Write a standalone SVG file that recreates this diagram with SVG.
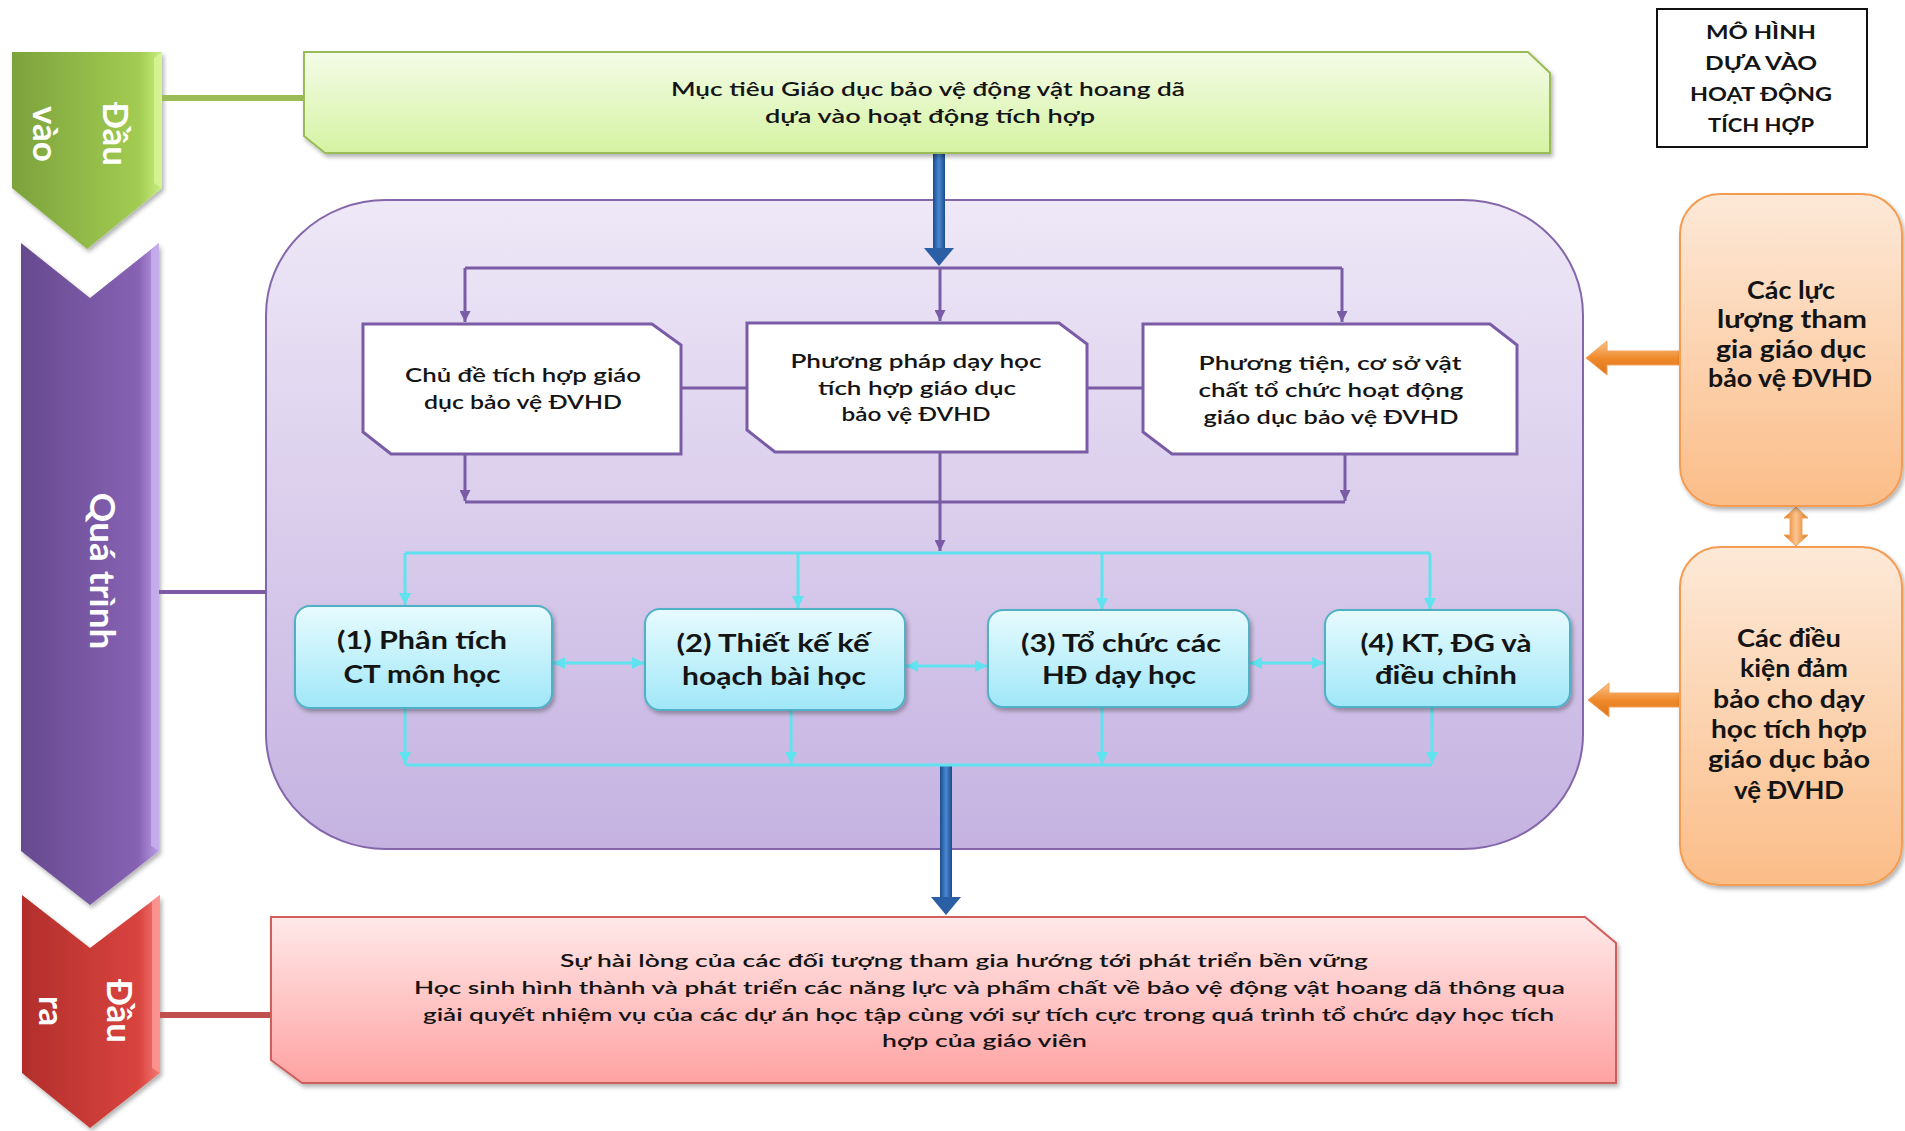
<svg xmlns="http://www.w3.org/2000/svg" width="1905" height="1131" viewBox="0 0 1905 1131">
<defs>
<style>
text{font-family:"Lato","Open Sans","DejaVu Sans",sans-serif;fill:#141414;}
.t20{font-size:20px;font-weight:600;}
.t24{font-size:24px;font-weight:700;}
.tor{font-size:24px;font-weight:700;}
.tred{font-size:18px;font-weight:600;}
.tlab{font-size:18px;font-weight:700;}
.chev{font-size:35px;font-weight:700;fill:#ffffff;}
.pl{fill:none;stroke:#7a5ca6;stroke-width:3;}
.cy{fill:none;stroke:#5fe3ee;stroke-width:3;}
</style>
<linearGradient id="gGreenChev" x1="0" y1="0" x2="1" y2="0"><stop offset="0" stop-color="#7ca23c"/><stop offset="0.85" stop-color="#a2cc52"/><stop offset="1" stop-color="#c8ef80"/></linearGradient>
<linearGradient id="gPurpleChev" x1="0" y1="0" x2="1" y2="0"><stop offset="0" stop-color="#654a8e"/><stop offset="0.85" stop-color="#8762b4"/><stop offset="1" stop-color="#b99de4"/></linearGradient>
<linearGradient id="gRedChev" x1="0" y1="0" x2="1" y2="0"><stop offset="0" stop-color="#b22e2b"/><stop offset="0.85" stop-color="#d9443f"/><stop offset="1" stop-color="#f67b76"/></linearGradient>
<linearGradient id="gGreenBox" x1="0" y1="0" x2="0" y2="1"><stop offset="0" stop-color="#f4fce8"/><stop offset="1" stop-color="#d5f3a2"/></linearGradient>
<linearGradient id="gPurpleBox" x1="0" y1="0" x2="0" y2="1"><stop offset="0" stop-color="#eee8f7"/><stop offset="1" stop-color="#c5b2e1"/></linearGradient>
<linearGradient id="gCyan" x1="0" y1="0" x2="0" y2="1"><stop offset="0" stop-color="#e7fbfe"/><stop offset="1" stop-color="#a0e7f8"/></linearGradient>
<linearGradient id="gOrange" x1="0" y1="0" x2="0" y2="1"><stop offset="0" stop-color="#fde9d8"/><stop offset="1" stop-color="#fbbd88"/></linearGradient>
<linearGradient id="gRed" x1="0" y1="0" x2="0" y2="1"><stop offset="0" stop-color="#ffe9e9"/><stop offset="1" stop-color="#ffa2a2"/></linearGradient>
<linearGradient id="gBlue" x1="0" y1="0" x2="1" y2="0"><stop offset="0" stop-color="#1b4c8c"/><stop offset="0.5" stop-color="#4b88d2"/><stop offset="1" stop-color="#1b4c8c"/></linearGradient>
<linearGradient id="gOrArrow" x1="0" y1="0" x2="0" y2="1"><stop offset="0" stop-color="#fbc58f"/><stop offset="0.5" stop-color="#ef8a2c"/><stop offset="1" stop-color="#dd7419"/></linearGradient>
<linearGradient id="gOrArrowV" x1="0" y1="0" x2="1" y2="0"><stop offset="0" stop-color="#dd7419"/><stop offset="0.5" stop-color="#fbc58f"/><stop offset="1" stop-color="#dd7419"/></linearGradient>
<filter id="sh" x="-5%" y="-5%" width="110%" height="115%"><feDropShadow dx="2" dy="3" stdDeviation="2" flood-color="#000" flood-opacity="0.3"/></filter>
<marker id="mP" viewBox="0 0 10 10" refX="10" refY="5" markerWidth="11" markerHeight="11" markerUnits="userSpaceOnUse" orient="auto-start-reverse"><path d="M0,0 L10,5 L0,10 Z" fill="#7a5ca6"/></marker>
<marker id="mC" viewBox="0 0 10 10" refX="10" refY="5" markerWidth="12" markerHeight="12" markerUnits="userSpaceOnUse" orient="auto-start-reverse"><path d="M0,0 L10,5 L0,10 Z" fill="#5fe3ee"/></marker>
</defs>

<rect width="1905" height="1131" fill="#ffffff"/>

<!-- side chevrons -->
<g id="chev-input">
<path d="M12,52 H162 V188 L87,249 L12,188 Z" fill="url(#gGreenChev)" filter="url(#sh)"/>
<path d="M154,58 L162,52 V188 L154,183 Z" fill="#d8f59a" opacity="0.8"/>
<text class="chev" transform="translate(103,134) rotate(90)" text-anchor="middle"><tspan x="0" y="0">Đầu</tspan><tspan x="0" y="70">vào</tspan></text>
</g>
<g id="chev-process">
<path d="M21,243 L90,298 L159,243 V851 L90,905 L21,851 Z" fill="url(#gPurpleChev)" filter="url(#sh)"/>
<path d="M151,250 L159,243 V851 L151,846 Z" fill="#c9b2ee" opacity="0.8"/>
<text class="chev" font-size="38" transform="translate(90,571) rotate(90)" text-anchor="middle" textLength="157" lengthAdjust="spacingAndGlyphs">Quá trình</text>
</g>
<g id="chev-output">
<path d="M22,895 L90,948 L160,895 V1073 L90,1128 L22,1073 Z" fill="url(#gRedChev)" filter="url(#sh)"/>
<path d="M152,901 L160,895 V1073 L152,1068 Z" fill="#ff9a95" opacity="0.8"/>
<text class="chev" transform="translate(107,1011) rotate(90)" text-anchor="middle"><tspan x="0" y="0">Đầu</tspan><tspan x="0" y="68">ra</tspan></text>
</g>

<!-- title label -->
<g id="title">
<rect x="1657" y="9" width="210" height="138" fill="#ffffff" stroke="#111" stroke-width="2"/>
<text class="tlab" text-anchor="middle"><tspan x="1761" y="39" textLength="110" lengthAdjust="spacingAndGlyphs">MÔ HÌNH</tspan><tspan x="1761" y="70" textLength="112" lengthAdjust="spacingAndGlyphs">DỰA VÀO</tspan><tspan x="1761" y="101" textLength="142" lengthAdjust="spacingAndGlyphs">HOẠT ĐỘNG</tspan><tspan x="1761" y="132" textLength="106" lengthAdjust="spacingAndGlyphs">TÍCH HỢP</tspan></text>
</g>

<!-- purple container -->
<g id="process-area">
<rect x="266" y="200" width="1317" height="649" rx="120" ry="115" fill="url(#gPurpleBox)" stroke="#8466ab" stroke-width="2"/>
</g>

<!-- connectors -->
<g id="connectors">
<line x1="162" y1="98" x2="304" y2="98" stroke="#9bbb59" stroke-width="6"/>
<line x1="159" y1="592" x2="266" y2="592" stroke="#7a5ca6" stroke-width="4"/>
<line x1="160" y1="1015" x2="271" y2="1015" stroke="#c0504d" stroke-width="6"/>
<!-- blue arrows -->
<rect x="933" y="153" width="12" height="97" fill="url(#gBlue)"/>
<path d="M924,248 H954 L939,266 Z" fill="#2a5fa5"/>
<rect x="940" y="765" width="12" height="134" fill="url(#gBlue)"/>
<path d="M931,897 H961 L946,915 Z" fill="#2a5fa5"/>
<!-- purple flow -->
<path class="pl" d="M465,268 H1342"/>
<path class="pl" d="M465,268 V322" marker-end="url(#mP)"/>
<path class="pl" d="M940,268 V321" marker-end="url(#mP)"/>
<path class="pl" d="M1342,268 V322" marker-end="url(#mP)"/>
<path class="pl" d="M681,388 H747"/>
<path class="pl" d="M1087,388 H1143"/>
<path class="pl" d="M465,454 V501" marker-end="url(#mP)"/>
<path class="pl" d="M1345,454 V501" marker-end="url(#mP)"/>
<path class="pl" d="M465,502 H1345"/>
<path class="pl" d="M940,452 V551" marker-end="url(#mP)"/>
<!-- cyan flow -->
<path class="cy" d="M405,553 H1430"/>
<path class="cy" d="M405,553 V605" marker-end="url(#mC)"/>
<path class="cy" d="M798,553 V608" marker-end="url(#mC)"/>
<path class="cy" d="M1102,553 V610" marker-end="url(#mC)"/>
<path class="cy" d="M1430,553 V610" marker-end="url(#mC)"/>
<path class="cy" d="M405,708 V764" marker-end="url(#mC)"/>
<path class="cy" d="M791,711 V764" marker-end="url(#mC)"/>
<path class="cy" d="M1102,708 V764" marker-end="url(#mC)"/>
<path class="cy" d="M1432,708 V764" marker-end="url(#mC)"/>
<path class="cy" d="M405,765 H1432"/>
<path class="cy" d="M553,663 H644" marker-start="url(#mC)" marker-end="url(#mC)"/>
<path class="cy" d="M906,666 H987" marker-start="url(#mC)" marker-end="url(#mC)"/>
<path class="cy" d="M1250,663 H1324" marker-start="url(#mC)" marker-end="url(#mC)"/>
<!-- orange arrows -->
<path d="M1586,358 L1607,341 V351 H1680 V365 H1607 V375 Z" fill="url(#gOrArrow)" stroke="#f2a35e" stroke-width="1"/>
<path d="M1588,700 L1609,683 V693 H1680 V707 H1609 V717 Z" fill="url(#gOrArrow)" stroke="#f2a35e" stroke-width="1"/>
<path d="M1796,507 L1808,518 H1802 V535 H1808 L1796,546 L1784,535 H1790 V518 H1784 Z" fill="url(#gOrArrowV)" stroke="#f2a35e" stroke-width="1"/>
</g>

<!-- input node -->
<g id="goal">
<path d="M304,52 H1528 L1550,73 V153 H325 L304,136 Z" fill="url(#gGreenBox)" stroke="#9bbb59" stroke-width="2" filter="url(#sh)"/>
<text class="t20" text-anchor="middle"><tspan x="928" y="96" textLength="514" lengthAdjust="spacingAndGlyphs">Mục tiêu Giáo dục bảo vệ động vật hoang dã</tspan><tspan x="930" y="123" textLength="330" lengthAdjust="spacingAndGlyphs">dựa vào hoạt động tích hợp</tspan></text>
</g>

<!-- white nodes -->
<g id="topic">
<path d="M363,324 H652 L681,345 V454 H391 L363,432 Z" fill="#ffffff" stroke="#7a5ca6" stroke-width="3"/>
<text class="t20" text-anchor="middle"><tspan x="523" y="382" textLength="236" lengthAdjust="spacingAndGlyphs">Chủ đề tích hợp giáo</tspan><tspan x="523" y="409" textLength="198" lengthAdjust="spacingAndGlyphs">dục bảo vệ ĐVHD</tspan></text>
</g>
<g id="method">
<path d="M747,323 H1059 L1087,344 V452 H775 L747,430 Z" fill="#ffffff" stroke="#7a5ca6" stroke-width="3"/>
<text class="t20" text-anchor="middle"><tspan x="916" y="368" textLength="251" lengthAdjust="spacingAndGlyphs">Phương pháp dạy học</tspan><tspan x="917" y="395" textLength="198" lengthAdjust="spacingAndGlyphs">tích hợp giáo dục</tspan><tspan x="916" y="421" textLength="149" lengthAdjust="spacingAndGlyphs">bảo vệ ĐVHD</tspan></text>
</g>
<g id="means">
<path d="M1143,324 H1490 L1517,345 V454 H1172 L1143,432 Z" fill="#ffffff" stroke="#7a5ca6" stroke-width="3"/>
<text class="t20" text-anchor="middle"><tspan x="1330" y="370" textLength="263" lengthAdjust="spacingAndGlyphs">Phương tiện, cơ sở vật</tspan><tspan x="1331" y="397" textLength="265" lengthAdjust="spacingAndGlyphs">chất tổ chức hoạt động</tspan><tspan x="1331" y="424" textLength="255" lengthAdjust="spacingAndGlyphs">giáo dục bảo vệ ĐVHD</tspan></text>
</g>

<!-- cyan step nodes -->
<g id="step1">
<rect x="295" y="606" width="257" height="102" rx="15" fill="url(#gCyan)" stroke="#4fb0c6" stroke-width="2" filter="url(#sh)"/>
<text class="t24" text-anchor="middle"><tspan x="422" y="649" textLength="170" lengthAdjust="spacingAndGlyphs">(1) Phân tích</tspan><tspan x="422" y="683" textLength="157" lengthAdjust="spacingAndGlyphs">CT môn học</tspan></text>
</g>
<g id="step2">
<rect x="645" y="609" width="260" height="101" rx="15" fill="url(#gCyan)" stroke="#4fb0c6" stroke-width="2" filter="url(#sh)"/>
<text class="t24" text-anchor="middle"><tspan x="773" y="652" textLength="193" lengthAdjust="spacingAndGlyphs">(2) Thiết kế kế</tspan><tspan x="774" y="685" textLength="184" lengthAdjust="spacingAndGlyphs">hoạch bài học</tspan></text>
</g>
<g id="step3">
<rect x="988" y="610" width="261" height="97" rx="15" fill="url(#gCyan)" stroke="#4fb0c6" stroke-width="2" filter="url(#sh)"/>
<text class="t24" text-anchor="middle"><tspan x="1121" y="652" textLength="200" lengthAdjust="spacingAndGlyphs">(3) Tổ chức các</tspan><tspan x="1119" y="684" textLength="154" lengthAdjust="spacingAndGlyphs">HĐ dạy học</tspan></text>
</g>
<g id="step4">
<rect x="1325" y="610" width="245" height="97" rx="15" fill="url(#gCyan)" stroke="#4fb0c6" stroke-width="2" filter="url(#sh)"/>
<text class="t24" text-anchor="middle"><tspan x="1446" y="652" textLength="171" lengthAdjust="spacingAndGlyphs">(4) KT, ĐG và</tspan><tspan x="1446" y="684" textLength="142" lengthAdjust="spacingAndGlyphs">điều chỉnh</tspan></text>
</g>

<!-- orange nodes -->
<g id="forces">
<rect x="1680" y="194" width="222" height="312" rx="40" fill="url(#gOrange)" stroke="#f59c52" stroke-width="2" filter="url(#sh)"/>
<text class="tor" text-anchor="middle"><tspan x="1791" y="299" textLength="88" lengthAdjust="spacingAndGlyphs">Các lực</tspan><tspan x="1792" y="328" textLength="150" lengthAdjust="spacingAndGlyphs">lượng tham</tspan><tspan x="1791" y="358" textLength="150" lengthAdjust="spacingAndGlyphs">gia giáo dục</tspan><tspan x="1790" y="387" textLength="164" lengthAdjust="spacingAndGlyphs">bảo vệ ĐVHD</tspan></text>
</g>
<g id="conditions">
<rect x="1680" y="547" width="222" height="338" rx="40" fill="url(#gOrange)" stroke="#f59c52" stroke-width="2" filter="url(#sh)"/>
<text class="tor" text-anchor="middle"><tspan x="1789" y="647" textLength="104" lengthAdjust="spacingAndGlyphs">Các điều</tspan><tspan x="1794" y="677" textLength="108" lengthAdjust="spacingAndGlyphs">kiện đảm</tspan><tspan x="1789" y="708" textLength="152" lengthAdjust="spacingAndGlyphs">bảo cho dạy</tspan><tspan x="1789" y="738" textLength="156" lengthAdjust="spacingAndGlyphs">học tích hợp</tspan><tspan x="1789" y="768" textLength="162" lengthAdjust="spacingAndGlyphs">giáo dục bảo</tspan><tspan x="1789" y="799" textLength="110" lengthAdjust="spacingAndGlyphs">vệ ĐVHD</tspan></text>
</g>

<!-- output node -->
<g id="outcome">
<path d="M271,917 H1585 L1616,943 V1083 H302 L271,1060 Z" fill="url(#gRed)" stroke="#cf5f5b" stroke-width="2" filter="url(#sh)"/>
<text class="tred"><tspan x="560" y="967" textLength="808" lengthAdjust="spacingAndGlyphs">Sự hài lòng của các đối tượng tham gia hướng tới phát triển bền vững</tspan><tspan x="414" y="994" textLength="1151" lengthAdjust="spacingAndGlyphs">Học sinh hình thành và phát triển các năng lực và phẩm chất về bảo vệ động vật hoang dã thông qua</tspan><tspan x="423" y="1021" textLength="1131" lengthAdjust="spacingAndGlyphs">giải quyết nhiệm vụ của các dự án học tập cùng với sự tích cực trong quá trình tổ chức dạy học tích</tspan><tspan x="882" y="1047" textLength="205" lengthAdjust="spacingAndGlyphs">hợp của giáo viên</tspan></text>
</g>
</svg>
